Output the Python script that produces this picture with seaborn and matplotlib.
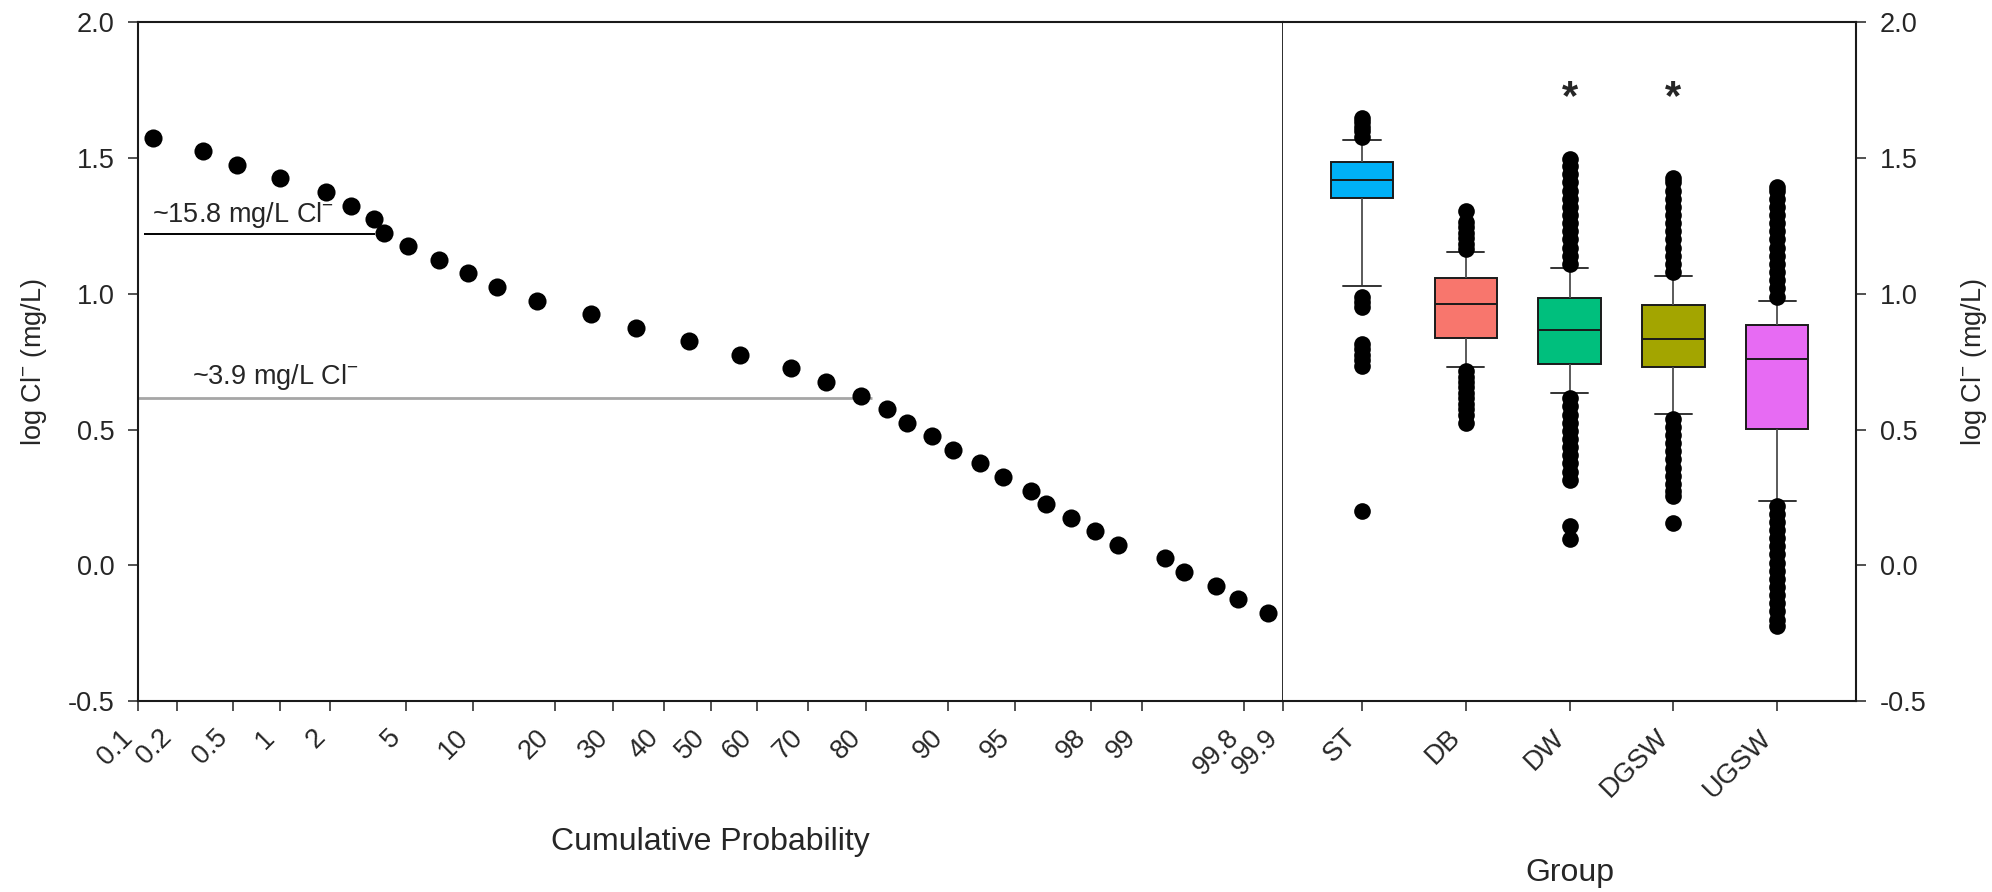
import numpy as np
import pandas as pd
import seaborn as sns
import matplotlib.pyplot as plt
from statistics import NormalDist

# -----------------------------
# Cumulative probability plot
# -----------------------------
cum_prob = [0.13, 0.31, 0.53, 1.0, 1.9, 2.6, 3.45, 3.9, 5.1, 7.1, 9.5, 12.4,
            17.4, 26.0, 34.3, 45.3, 56.4, 66.8, 73.3, 79.2, 83.0, 85.6, 88.4,
            90.5, 92.7, 94.3, 95.8, 96.5, 97.4, 98.1, 98.6, 99.29, 99.47,
            99.68, 99.78, 99.87]
log_cl = [1.575, 1.525, 1.475, 1.425, 1.375, 1.325, 1.275, 1.225, 1.175,
          1.125, 1.075, 1.025, 0.975, 0.925, 0.875, 0.825, 0.775, 0.725,
          0.675, 0.625, 0.575, 0.525, 0.475, 0.425, 0.375, 0.325, 0.275,
          0.225, 0.175, 0.125, 0.075, 0.025, -0.025, -0.075, -0.125, -0.175]

prob_ticks = [0.1, 0.2, 0.5, 1, 2, 5, 10, 20, 30, 40, 50, 60, 70, 80, 90,
              95, 98, 99, 99.8, 99.9]
prob_labels = ["0.1", "0.2", "0.5", "1", "2", "5", "10", "20", "30", "40",
               "50", "60", "70", "80", "90", "95", "98", "99", "99.8", "99.9"]
y_ticks = [-0.5, 0.0, 0.5, 1.0, 1.5, 2.0]

# threshold lines (log value, start / end in cumulative %)
hi_level, hi_start, hi_end = 1.22, 0.111, 3.5
lo_level, lo_start, lo_end = 0.615, 0.1, 80.8

# -----------------------------
# Box plots by group
# -----------------------------
groups = ["ST", "DB", "DW", "DGSW", "UGSW"]
group_colors = ["#00B0F6", "#F8766D", "#00BF7D", "#A3A500", "#E76BF3"]
box_lo = [1.03, 0.73, 0.633, 0.556, 0.237]
box_q1 = [1.353, 0.838, 0.743, 0.730, 0.501]
box_med = [1.42, 0.963, 0.865, 0.835, 0.761]
box_q3 = [1.485, 1.059, 0.985, 0.957, 0.884]
box_hi = [1.565, 1.154, 1.096, 1.065, 0.973]

st_out = [1.578, 1.598, 1.615, 1.632, 1.648, 0.99, 0.97, 0.953,
          0.815, 0.795, 0.775, 0.755, 0.735, 0.20]
db_out = [1.165, 1.185, 1.205, 1.225, 1.245, 1.265, 1.305,
          0.715, 0.695, 0.675, 0.655, 0.635, 0.615, 0.595, 0.575, 0.555, 0.525]
dw_out = [1.11, 1.14, 1.17, 1.20, 1.23, 1.26, 1.29, 1.32, 1.35, 1.38, 1.41,
          1.44, 1.47, 1.495,
          0.615, 0.585, 0.555, 0.525, 0.495, 0.465, 0.435, 0.405, 0.375,
          0.345, 0.315, 0.145, 0.095]
dgsw_out = [1.08, 1.11, 1.14, 1.17, 1.20, 1.23, 1.26, 1.29, 1.32, 1.35, 1.38,
            1.41, 1.425,
            0.54, 0.51, 0.48, 0.45, 0.42, 0.39, 0.36, 0.33, 0.30, 0.275,
            0.255, 0.155]
ugsw_out = [0.99, 1.02, 1.05, 1.08, 1.11, 1.14, 1.17, 1.20, 1.23, 1.26, 1.29,
            1.32, 1.35, 1.38, 1.395,
            0.22, 0.19, 0.16, 0.13, 0.10, 0.07, 0.04, 0.01, -0.02, -0.05,
            -0.08, -0.11, -0.14, -0.17, -0.20, -0.225]

star_groups = ["DW", "DGSW"]
star_y = 1.68

# -----------------------------
# Tables for seaborn
# -----------------------------
box_df = pd.DataFrame({
    "group": np.repeat(groups, 5),
    "value": np.column_stack([box_lo, box_q1, box_med, box_q3, box_hi]).ravel(),
})
out_df = pd.concat([
    pd.DataFrame({"group": g, "value": v})
    for g, v in zip(groups, [st_out, db_out, dw_out, dgsw_out, ugsw_out])
], ignore_index=True)

# -----------------------------
# Normal probability scale
# -----------------------------
_nd = NormalDist()
_probit_v = np.vectorize(lambda v: _nd.inv_cdf(v / 100.0), otypes=[float])
_cdf_v = np.vectorize(lambda v: _nd.cdf(v) * 100.0, otypes=[float])


def probit(p):
    p = np.clip(np.asarray(p, dtype=float), 1e-7, 100 - 1e-7)
    return _probit_v(p)


def inv_probit(z):
    return _cdf_v(np.asarray(z, dtype=float))


# -----------------------------
# Style
# -----------------------------
sns.set_style("white")
plt.rcParams["font.family"] = ["Liberation Sans", "DejaVu Sans"]
plt.rcParams["mathtext.fontset"] = "custom"
plt.rcParams["mathtext.rm"] = "Liberation Sans"
plt.rcParams["mathtext.it"] = "Liberation Sans:italic"
plt.rcParams["mathtext.bf"] = "Liberation Sans:bold"
plt.rcParams["axes.unicode_minus"] = False

TICK_FS = 19.5
XLABEL_FS = 23
YLABEL_FS = 19.5
SPINE_C = "#1a1a1a"
ylab = "log Cl$^{-}$ (mg/L)"

fig = plt.figure(figsize=(19.92, 8.92), dpi=100)
ax_l = fig.add_axes([0.0693, 0.2141, 0.5748, 0.7609])
ax_r = fig.add_axes([0.6441, 0.2141, 0.2877, 0.7609])

# =============================
# LEFT: probability plot
# =============================
ax_l.set_xscale("function", functions=(probit, inv_probit))
sns.scatterplot(x=cum_prob, y=log_cl, ax=ax_l, color="black", s=170,
                linewidth=0, zorder=3)
ax_l.hlines(hi_level, hi_start, hi_end, color="black", lw=1.4, zorder=2)
ax_l.hlines(lo_level, lo_start, lo_end, color="#a6a6a6", lw=2, zorder=2)
ax_l.text(0.129, 1.236, "~15.8 mg/L Cl$^{-}$", fontsize=TICK_FS,
          ha="left", va="bottom")
ax_l.text(0.256, 0.638, "~3.9 mg/L Cl$^{-}$", fontsize=TICK_FS,
          ha="left", va="bottom")

ax_l.set_xlim(0.1, 99.9)
ax_l.set_ylim(-0.5, 2.0)
ax_l.set_xticks(prob_ticks)
ax_l.set_xticklabels(prob_labels, rotation=45, ha="right")
ax_l.set_yticks(y_ticks)
ax_l.set_yticklabels([f"{v:.1f}" for v in y_ticks])
ax_l.tick_params(axis="x", bottom=True, direction="out", length=7, width=1.2,
                 color="#333333", labelsize=TICK_FS, pad=10)
ax_l.tick_params(axis="y", left=True, direction="out", length=7, width=1.2,
                 color="#333333", labelsize=TICK_FS, pad=10)
for s in ax_l.spines.values():
    s.set_color(SPINE_C)
    s.set_linewidth(1.5)
ax_l.spines["right"].set_linewidth(1.3)

ax_l.set_xlabel("Cumulative Probability", fontsize=XLABEL_FS, va="top")
ax_l.xaxis.set_label_coords(0.5, -0.185)
ax_l.set_ylabel(ylab, fontsize=YLABEL_FS)
ax_l.yaxis.set_label_coords(-0.078, 0.5)

# =============================
# RIGHT: box plots
# =============================
sns.boxplot(
    data=box_df, x="group", y="value", hue="group",
    order=groups, hue_order=groups, palette=group_colors,
    saturation=1, width=0.6, whis=(0, 100), showfliers=False,
    linecolor="#1a1a1a", linewidth=1.4, legend=False,
    capwidths=0.36,
    whiskerprops={"color": "#4d4d4d", "linewidth": 1.3},
    capprops={"color": "#333333", "linewidth": 1.4},
    ax=ax_r,
)
sns.stripplot(
    data=out_df, x="group", y="value", order=groups,
    jitter=False, color="black", size=12, linewidth=0, ax=ax_r, zorder=3,
)
for g in star_groups:
    ax_r.text(groups.index(g), star_y, "*", ha="center", va="baseline",
              fontsize=30, fontweight="bold")

ax_r.set_xlim(-0.76, 4.76)
ax_r.set_ylim(-0.5, 2.0)
ax_r.set_xticks(range(len(groups)))
ax_r.set_xticklabels(groups, rotation=45, ha="right")
ax_r.set_yticks(y_ticks)
ax_r.set_yticklabels([f"{v:.1f}" for v in y_ticks])
ax_r.yaxis.tick_right()
ax_r.yaxis.set_label_position("right")
ax_r.tick_params(axis="x", bottom=True, direction="out", length=7, width=1.2,
                 color="#333333", labelsize=TICK_FS, pad=10)
ax_r.tick_params(axis="y", right=True, left=False, direction="out", length=7,
                 width=1.2, color="#333333", labelsize=TICK_FS, pad=10)
ax_r.spines["left"].set_visible(False)
for k in ["top", "right", "bottom"]:
    ax_r.spines[k].set_color(SPINE_C)
    ax_r.spines[k].set_linewidth(1.5)

ax_r.set_xlabel("Group", fontsize=XLABEL_FS, va="top")
ax_r.xaxis.set_label_coords(0.5, -0.232)
ax_r.set_ylabel(ylab, fontsize=YLABEL_FS)
ax_r.yaxis.set_label_coords(1.18, 0.5)

fig.savefig("out.png", dpi=100)
plt.close(fig)
